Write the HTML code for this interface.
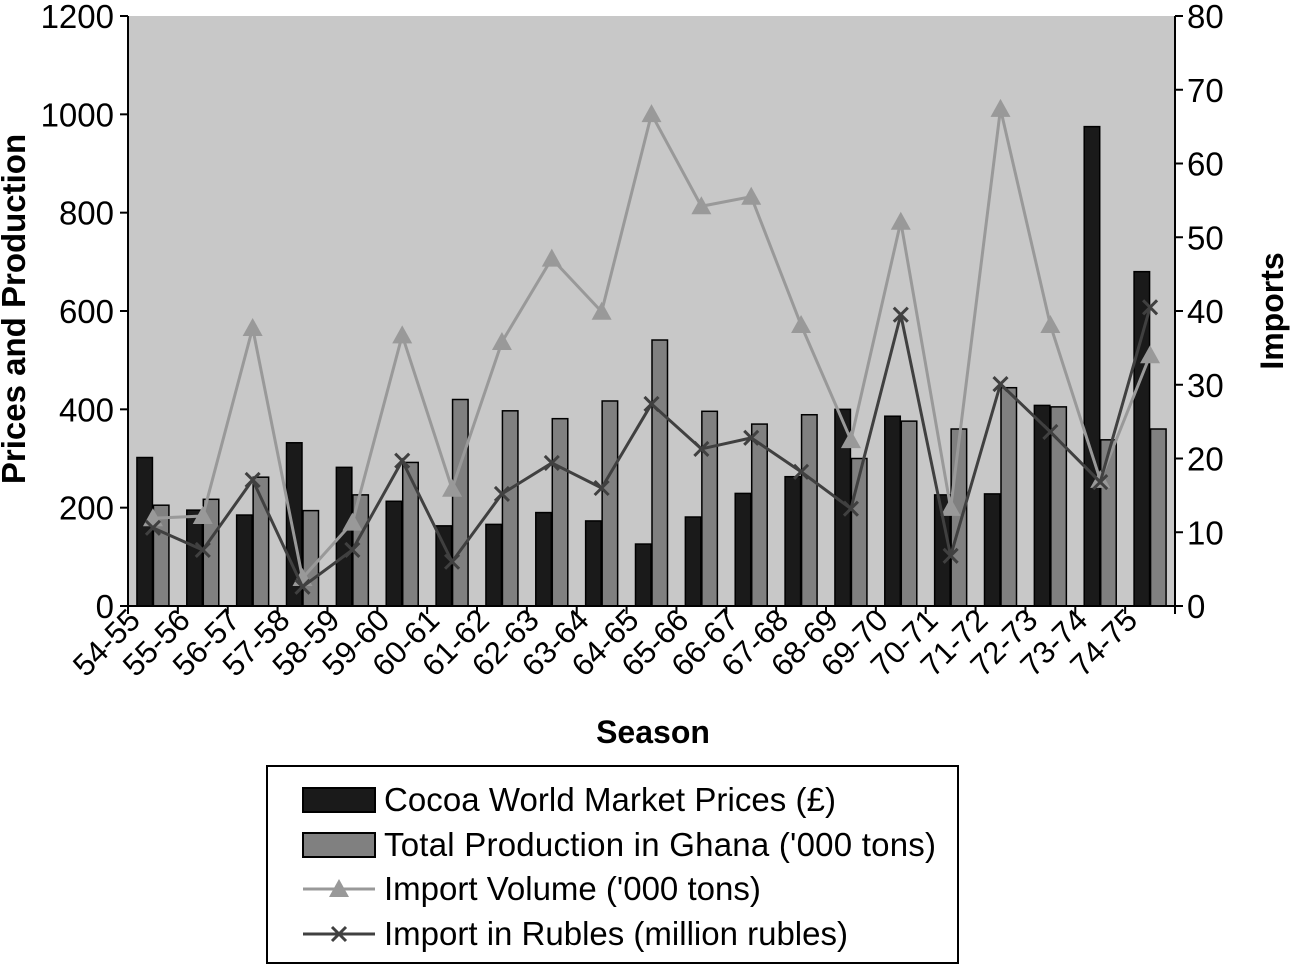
<!DOCTYPE html>
<html><head><meta charset="utf-8"><style>
body{margin:0;background:#fff;}
svg{font-family:"Liberation Sans",Arial,sans-serif;}
</style></head><body>
<svg id="chart" width="1292" height="968" viewBox="0 0 1292 968">
<rect x="128" y="16" width="1047" height="590" fill="#c8c8c8"/>
<g id="g-bars"></g>
<g id="g-lines"></g>
<g id="g-axes"></g>
<text x="653" y="743" font-size="32" font-weight="bold" text-anchor="middle">Season</text>
<text transform="translate(25,309) rotate(-90)" font-size="33" font-weight="bold" text-anchor="middle">Prices and Production</text>
<text transform="translate(1283,311) rotate(-90)" font-size="32" font-weight="bold" text-anchor="middle">Imports</text>
<g>
<rect x="267" y="766" width="691" height="197" fill="#fff" stroke="#000" stroke-width="2"/>
<g><rect x="303" y="788" width="72" height="24" fill="#1a1a1a" stroke="#000" stroke-width="2"/><text x="384" y="811" font-size="33" textLength="452">Cocoa World Market Prices (£)</text></g>
<g><rect x="303" y="833" width="72" height="24" fill="#808080" stroke="#000" stroke-width="2"/><text x="384" y="856" font-size="33" textLength="552">Total Production in Ghana ('000 tons)</text></g>
<g><line x1="303" y1="889" x2="375" y2="889" stroke="#999" stroke-width="3"/><path d="M339,879 L349,897 L329,897 Z" fill="#999"/><text x="384" y="900" font-size="33">Import Volume ('000 tons)</text></g>
<g><line x1="303" y1="934" x2="375" y2="934" stroke="#404040" stroke-width="3"/><path d="M332,927 L346,941 M346,927 L332,941" stroke="#404040" stroke-width="3"/><text x="384" y="945" font-size="33">Import in Rubles (million rubles)</text></g>
</g>
</svg>
<script>
const seasons=["54-55","55-56","56-57","57-58","58-59","59-60","60-61","61-62","62-63","63-64","64-65","65-66","66-67","67-68","68-69","69-70","70-71","71-72","72-73","73-74","74-75"];
const prices=[302,195,185,332,282,213,163,166,190,173,126,181,229,263,400,386,226,228,408,975,680];
const production=[205,217,262,194,226,292,420,397,381,417,541,396,370,389,300,376,360,444,405,338,360];
const importVolume=[11.9,12.2,37.7,3.8,11.3,36.7,15.9,35.8,47.1,39.9,66.7,54.2,55.5,38.1,22.5,52.1,13.3,67.4,38.1,17.1,34.0];
const importRubles=[10.6,7.6,17.1,2.6,7.6,19.7,6.0,15.2,19.4,16.0,27.4,21.3,22.8,18.2,13.2,39.5,6.8,30.1,23.6,16.8,40.5];
const leftTicks=[0,200,400,600,800,1000,1200];
const rightTicks=[0,10,20,30,40,50,60,70,80];
const NS="http://www.w3.org/2000/svg";
const X0=128,X1=1175,Y0=606,Y1=16;
const cw=(X1-X0)/seasons.length;
const yL=v=>Y0-(v/1200)*(Y0-Y1);
const yR=v=>Y0-(v/80)*(Y0-Y1);
const xC=i=>X0+cw*(i+0.5);
function mk(t,a,p){const e=document.createElementNS(NS,t);for(const k in a)e.setAttribute(k,a[k]);p.appendChild(e);return e;}
const gb=document.getElementById('g-bars'),gl=document.getElementById('g-lines'),ga=document.getElementById('g-axes');
const bw=15.5;
seasons.forEach((s,i)=>{
  const c=xC(i);
  let r=mk('rect',{x:c-bw-0.5,y:yL(prices[i]),width:bw,height:Y0-yL(prices[i]),fill:'#1a1a1a',stroke:'#000','stroke-width':1.5},gb);
  
  
  let r2=mk('rect',{x:c+0.5,y:yL(production[i]),width:bw,height:Y0-yL(production[i]),fill:'#808080',stroke:'#000','stroke-width':1.5},gb);
  
  
});
let p1=mk('polyline',{points:importVolume.map((v,i)=>xC(i)+','+yR(v)).join(' '),fill:'none',stroke:'#999','stroke-width':3},gl);


importVolume.forEach((v,i)=>{const x=xC(i),y=yR(v);
  let t=mk('path',{d:`M${x},${y-10} L${x+10},${y+8} L${x-10},${y+8} Z`,fill:'#999'},gl);
  
  });
let p2=mk('polyline',{points:importRubles.map((v,i)=>xC(i)+','+yR(v)).join(' '),fill:'none',stroke:'#404040','stroke-width':3},gl);


importRubles.forEach((v,i)=>{const x=xC(i),y=yR(v);
  let t=mk('path',{d:`M${x-7},${y-7} L${x+7},${y+7} M${x+7},${y-7} L${x-7},${y+7}`,stroke:'#404040','stroke-width':3},gl);
  
  });
mk('line',{x1:X0,y1:Y1,x2:X0,y2:Y0,stroke:'#000','stroke-width':2},ga);
mk('line',{x1:X1,y1:Y1,x2:X1,y2:Y0,stroke:'#000','stroke-width':2},ga);
mk('line',{x1:X0,y1:Y0,x2:X1,y2:Y0,stroke:'#000','stroke-width':2},ga);
leftTicks.forEach(v=>{const y=yL(v);mk('line',{x1:X0-8,y1:y,x2:X0,y2:y,stroke:'#000','stroke-width':2},ga);
  let t=mk('text',{x:X0-14,y:y+12,'font-size':33,'text-anchor':'end'},ga);t.textContent=v;
  
  });
rightTicks.forEach(v=>{const y=yR(v);mk('line',{x1:X1,y1:y,x2:X1+8,y2:y,stroke:'#000','stroke-width':2},ga);
  let t=mk('text',{x:X1+12,y:y+12,'font-size':33},ga);t.textContent=v;
  
  });
for(let i=0;i<=seasons.length;i++){const x=X0+cw*i;mk('line',{x1:x,y1:Y0,x2:x,y2:Y0+8,stroke:'#000','stroke-width':2},ga);}
seasons.forEach((s,i)=>{const x=X0+cw*i+14,y=Y0+16;
  let t=mk('text',{x:x,y:y,'font-size':31,'text-anchor':'end',transform:`rotate(-45 ${x} ${y})`},ga);t.textContent=s;
  
  });
</script>
</body></html>
